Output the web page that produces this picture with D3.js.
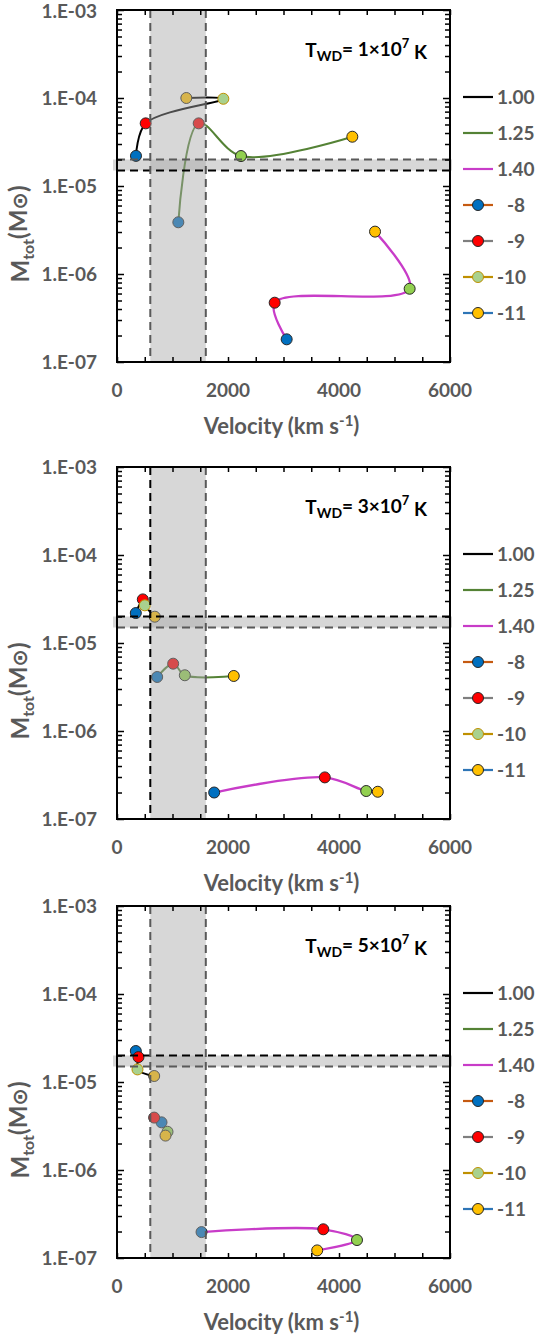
<!DOCTYPE html>
<html>
<head>
<meta charset="utf-8">
<script src="https://cdn.jsdelivr.net/npm/d3@7"></script>
<style>
  body { margin:0; background:#fff; }
  svg { display:block; font-family: Lato, "Open Sans", "DejaVu Sans", sans-serif; font-weight:700; }
</style>
</head>
<body>
<div id="chart"></div>
<script>
// ── data ──────────────────────────────────────────
const MASSES = ["1.00", "1.25", "1.40"];
const RATES  = ["-8", "-9", "-10", "-11"];
const TEMPS  = ["1", "3", "5"];           // T_WD = n×10^7 K

// velocity (km/s) per panel, rows = masses, cols = rates
const P1_VEL  = [[342, 517, 1916, 1249], [1105, 1472, 2234, 4240], [3057, 2841, 5273, 4649]];
const P1_MASS = [[2.2e-5, 5.15e-5, 9.8e-5, 1.0e-4], [3.87e-6, 5.15e-5, 2.19e-5, 3.63e-5], [1.81e-7, 4.72e-7, 6.8e-7, 3.03e-6]];
const P2_VEL  = [[339, 465, 501, 681], [724, 1012, 1222, 2104], [1751, 3744, 4490, 4699]];
const P2_MASS = [[2.19e-5, 3.13e-5, 2.68e-5, 1.99e-5], [4.11e-6, 5.82e-6, 4.3e-6, 4.22e-6], [2.0e-7, 2.97e-7, 2.08e-7, 2.04e-7]];
const P3_VEL  = [[339, 387, 369, 670], [802, 670, 910, 874], [1523, 3717, 4324, 3607]];
const P3_MASS = [[2.25e-5, 1.92e-5, 1.39e-5, 1.17e-5], [3.48e-6, 3.94e-6, 2.72e-6, 2.46e-6], [1.97e-7, 2.12e-7, 1.60e-7, 1.22e-7]];

const V_BAND = [600, 1600];       // observed velocity range
const M_BAND = [1.5e-5, 2.0e-5];  // observed ejecta mass range
const X_TICKS = [0, 2000, 4000, 6000];
const Y_TICKS = [1e-7, 1e-6, 1e-5, 1e-4, 1e-3];

// ── styles ────────────────────────────────────────
const LINE_C  = { "1.00":"#000000", "1.25":"#548235", "1.40":"#c83cc8" };
const RATE_C  = { "-8":"#0070c0", "-9":"#ff0000", "-10":"#92d050", "-11":"#ffc000" };
const LEG_LINE = { "-8":"#c55a11", "-9":"#7f7f7f", "-10":"#bf9000", "-11":"#2e75b6" };
const GREY_TXT = "#595959";
// dashed colours per panel: [hTop, hBottom, vLeft, vRight]
const DASH_C = [["#595959","#000","#595959","#595959"], ["#000","#595959","#000","#595959"], ["#000","#595959","#595959","#595959"]];

const PANELS = [
  { vel:P1_VEL, mass:P1_MASS, top:10 },
  { vel:P2_VEL, mass:P2_MASS, top:467 },
  { vel:P3_VEL, mass:P3_MASS, top:906 },
];
const PL = 117, PR = 450, PH = 352;

const svg = d3.select("#chart").append("svg").attr("width", 536).attr("height", 1335);

function markerFill(mi, r)   { return (mi === 0 && r === "-10") ? "#a9d18e" : RATE_C[r]; }
function markerStroke(mi, r) { return (mi === 0 && r === "-10") ? "#bf9000" : "#262626"; }

PANELS.forEach((p, pi) => {
  const top = p.top, bot = top + PH;
  const x = d3.scaleLinear().domain([0, 6000]).range([PL, PR]);
  const y = d3.scaleLog().domain([1e-7, 1e-3]).range([bot, top]);
  const g = svg.append("g");
  const dc = DASH_C[pi];

  // horizontal band (under the series)
  g.append("rect")
    .attr("x", PL - 4).attr("width", PR - PL + 6)
    .attr("y", y(M_BAND[1])).attr("height", y(M_BAND[0]) - y(M_BAND[1]))
    .attr("fill", "#a6a6a6").attr("fill-opacity", 0.45);

  // series
  const line = d3.line().x(d => x(d.v)).y(d => y(d.m)).curve(d3.curveCatmullRom.alpha(0.5));
  MASSES.forEach((mk, mi) => {
    const pts = RATES.map((r, ri) => ({ r, v:p.vel[mi][ri], m:p.mass[mi][ri] }));
    g.append("path").datum(pts).attr("d", line)
      .attr("fill", "none").attr("stroke", LINE_C[mk])
      .attr("stroke-width", mi === 2 ? 2.3 : 2);
    g.selectAll(null).data(pts).join("circle")
      .attr("cx", d => x(d.v)).attr("cy", d => y(d.m)).attr("r", 5.5)
      .attr("fill", d => markerFill(mi, d.r))
      .attr("stroke", d => markerStroke(mi, d.r)).attr("stroke-width", 1);
  });

  // vertical band (semi-transparent, on top)
  g.append("rect")
    .attr("x", x(V_BAND[0])).attr("width", x(V_BAND[1]) - x(V_BAND[0]))
    .attr("y", top).attr("height", PH)
    .attr("fill", "#a6a6a6").attr("fill-opacity", 0.45);

  // dashed edges
  const dash = (x1, y1, x2, y2, c) => g.append("line")
    .attr("x1", x1).attr("y1", y1).attr("x2", x2).attr("y2", y2)
    .attr("stroke", c).attr("stroke-width", 2).attr("stroke-dasharray", "8,5");
  dash(PL, y(M_BAND[1]), PR, y(M_BAND[1]), dc[0]);
  dash(PL, y(M_BAND[0]), PR, y(M_BAND[0]), dc[1]);
  dash(x(V_BAND[0]), top, x(V_BAND[0]), bot, dc[2]);
  dash(x(V_BAND[1]), top, x(V_BAND[1]), bot, dc[3]);

  // axes (ticks inward on all four sides)
  const all = y.ticks();
  const major = all.filter(d => Math.abs(Math.log10(d) - Math.round(Math.log10(d))) < 1e-9);
  const minor = all.filter(d => !major.includes(d));
  const xt = d3.range(0, 6001, 500);
  const ax = (sel, a) => { sel.call(a); sel.select(".domain").remove();
                           sel.selectAll("line").attr("stroke", "#000").attr("stroke-width", 1.5); };
  g.append("g").attr("transform", `translate(${PL},0)`).call(s => ax(s, d3.axisLeft(y).tickValues(major).tickSize(-7).tickFormat("")));
  g.append("g").attr("transform", `translate(${PL},0)`).call(s => ax(s, d3.axisLeft(y).tickValues(minor).tickSize(-5).tickFormat("")));
  g.append("g").attr("transform", `translate(${PR},0)`).call(s => ax(s, d3.axisRight(y).tickValues(major).tickSize(-7).tickFormat("")));
  g.append("g").attr("transform", `translate(${PR},0)`).call(s => ax(s, d3.axisRight(y).tickValues(minor).tickSize(-5).tickFormat("")));
  g.append("g").attr("transform", `translate(0,${bot})`).call(s => ax(s, d3.axisBottom(x).tickValues(xt).tickSize(-5).tickFormat("")));
  g.append("g").attr("transform", `translate(0,${top})`).call(s => ax(s, d3.axisTop(x).tickValues(xt).tickSize(-5).tickFormat("")));
  g.append("rect").attr("x", PL).attr("y", top).attr("width", PR - PL).attr("height", PH)
    .attr("fill", "none").attr("stroke", "#000").attr("stroke-width", 2);

  // tick labels
  g.selectAll(null).data(Y_TICKS).join("text")
    .attr("x", 97).attr("y", d => Math.max(y(d), 11)).attr("dy", "0.35em").attr("text-anchor", "end")
    .attr("fill", GREY_TXT).attr("font-size", 19)
    .text(d => "1.E-" + String(-Math.round(Math.log10(d))).padStart(2, "0"));
  g.selectAll(null).data(X_TICKS).join("text")
    .attr("x", d => x(d)).attr("y", bot + 28).attr("dy", "0.35em").attr("text-anchor", "middle")
    .attr("fill", GREY_TXT).attr("font-size", 19).text(d => d);

  // axis titles
  const xt1 = g.append("text").attr("x", (PL + PR) / 2 - 2).attr("y", bot + 64).attr("dy", "0.35em")
    .attr("text-anchor", "middle").attr("fill", GREY_TXT).attr("font-size", 22);
  xt1.append("tspan").text("Velocity (km s");
  xt1.append("tspan").attr("font-size", 15).attr("dy", "-0.5em").text("-1");
  xt1.append("tspan").attr("dy", "0.3em").text(")");

  const yt = g.append("text").attr("transform", `translate(21,${top + 224}) rotate(-90)`)
    .attr("dy", "0.35em").attr("text-anchor", "middle").attr("fill", GREY_TXT).attr("font-size", 24);
  yt.append("tspan").text("M");
  yt.append("tspan").attr("font-size", 16).attr("dy", "0.3em").text("tot");
  yt.append("tspan").attr("dy", "-0.3em").text("(M");
  yt.append("tspan").attr("font-family", "DejaVu Sans").attr("font-size", 21).text("\u2299");
  yt.append("tspan").text(")");

  // temperature annotation
  const ann = g.append("text").attr("x", 427).attr("y", top + 47).attr("text-anchor", "end")
    .attr("fill", "#000").attr("font-size", 19);
  ann.append("tspan").text("T");
  ann.append("tspan").attr("font-size", 14).attr("dy", "0.3em").text("WD");
  ann.append("tspan").attr("dy", "-0.3em").text("= " + TEMPS[pi] + "\u00d710");
  ann.append("tspan").attr("font-size", 13).attr("dy", "-0.55em").text("7");
  ann.append("tspan").attr("dy", "0.55em").text(" K");

  // legend
  const leg = g.append("g");
  const items = MASSES.map(m => ({ label:m, line:LINE_C[m], mk:null }))
    .concat(RATES.map(r => ({ label:r, line:LEG_LINE[r], mk:r })));
  items.forEach((it, i) => {
    const ly = top + 87 + i * 36;
    leg.append("line").attr("x1", 463).attr("x2", 493).attr("y1", ly).attr("y2", ly)
      .attr("stroke", it.line).attr("stroke-width", 2.2);
    if (it.mk) {
      leg.append("circle").attr("cx", 478).attr("cy", ly).attr("r", 5.5)
        .attr("fill", markerFill(0, it.mk)).attr("stroke", markerStroke(0, it.mk));
    }
    leg.append("text").attr("x", it.label.length === 2 ? 507 : 497).attr("y", ly).attr("dy", "0.35em")
      .attr("fill", GREY_TXT).attr("font-size", 19).text(it.label);
  });
});
</script>
</body>
</html>
